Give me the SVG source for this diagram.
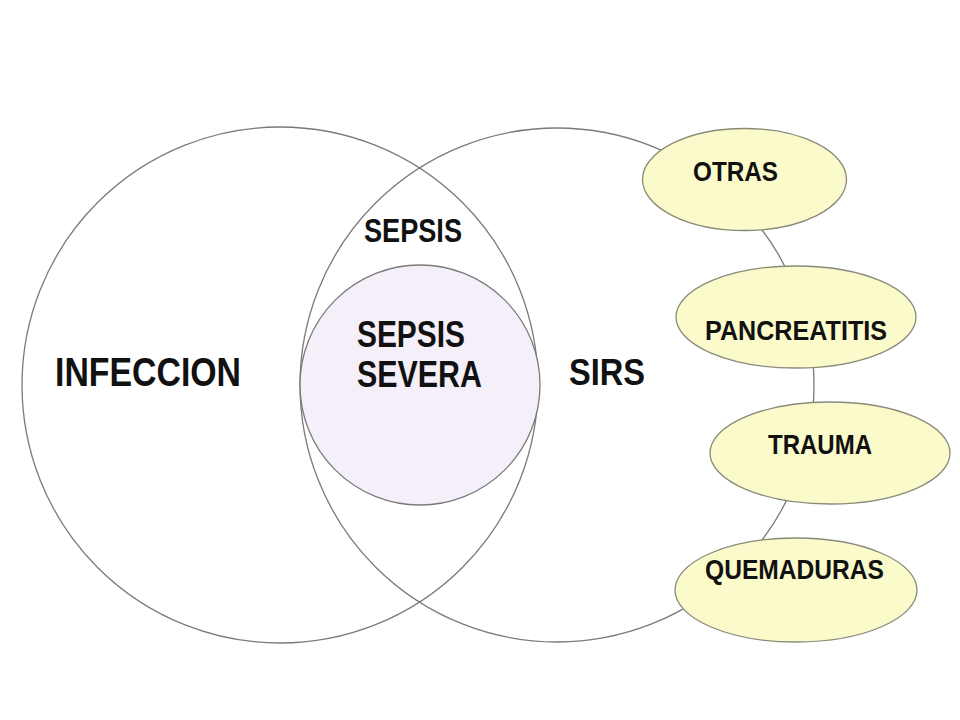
<svg xmlns="http://www.w3.org/2000/svg" width="960" height="720" viewBox="0 0 960 720">
<style>
.big{fill:none;stroke:#7a7a7a;stroke-width:1.3}
.inner{fill:#f4eff8;stroke:#7a7a7a;stroke-width:1.3}
.ell{fill:#fafaca;stroke:#8a8a7a;stroke-width:1.3}
text{font-family:"Liberation Sans Narrow","Liberation Sans",Arial,sans-serif;fill:#111;font-weight:bold}
</style>
<rect width="960" height="720" fill="#ffffff"/>
<g id="infeccion">
<circle class="big" cx="280" cy="385" r="258"/>
<text x="55" y="386" font-size="40" textLength="186" lengthAdjust="spacingAndGlyphs">INFECCION</text>
</g>
<g id="sirs">
<circle class="big" cx="557" cy="385" r="257"/>
<text x="569" y="385" font-size="37" textLength="76" lengthAdjust="spacingAndGlyphs">SIRS</text>
</g>
<g id="sepsis">
<text x="364" y="242" font-size="33" textLength="98" lengthAdjust="spacingAndGlyphs">SEPSIS</text>
</g>
<g id="sepsis-severa">
<circle class="inner" cx="420" cy="385" r="120"/>
<text x="357" y="347" font-size="37" textLength="108" lengthAdjust="spacingAndGlyphs">SEPSIS</text>
<text x="357" y="387" font-size="37" textLength="125" lengthAdjust="spacingAndGlyphs">SEVERA</text>
</g>
<g id="connectors"></g>
<g id="otras">
<ellipse class="ell" cx="744.5" cy="179.5" rx="102" ry="51"/>
<text x="693" y="181" font-size="27" textLength="85" lengthAdjust="spacingAndGlyphs">OTRAS</text>
</g>
<g id="pancreatitis">
<ellipse class="ell" cx="796" cy="317" rx="120" ry="51"/>
<text x="705" y="340" font-size="27" textLength="182" lengthAdjust="spacingAndGlyphs">PANCREATITIS</text>
</g>
<g id="trauma">
<ellipse class="ell" cx="830" cy="453" rx="120" ry="51"/>
<text x="768" y="454" font-size="28" textLength="104" lengthAdjust="spacingAndGlyphs">TRAUMA</text>
</g>
<g id="quemaduras">
<ellipse class="ell" cx="796" cy="590" rx="121" ry="52"/>
<text x="705" y="579" font-size="27" textLength="179" lengthAdjust="spacingAndGlyphs">QUEMADURAS</text>
</g>
</svg>
